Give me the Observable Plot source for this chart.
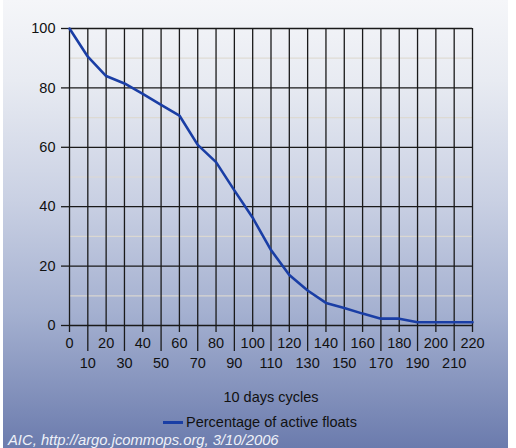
<!DOCTYPE html>
<html>
<head>
<meta charset="utf-8">
<script src="https://cdn.jsdelivr.net/npm/d3@7"></script>
<script src="https://cdn.jsdelivr.net/npm/@observablehq/plot@0.6"></script>
<style>
  html, body { margin: 0; padding: 0; background: #ffffff; }
  #wrap { position: relative; width: 516px; height: 448px; overflow: hidden; font-family: "Liberation Sans", Arial, Helvetica, sans-serif; }
  #bg { position: absolute; left: 3px; top: 0; width: 505px; height: 448px;
        background: linear-gradient(to bottom, #f5f6f9 0%, #e8ebf2 18%, #c9d0e3 45%, #a4b0d0 70%, #6b7bad 100%); }
  #chart { position: absolute; left: 0; top: 0; }
  #legend { position: absolute; left: 163px; top: 414px; display: flex; align-items: center; font-size: 14.5px; color: #111; }
  #legend .sw { width: 20px; height: 3px; background: #1a3ea5; margin-right: 3px; }
  #caption { position: absolute; left: 8px; top: 433px; font-size: 14.8px; line-height: 14px; font-style: italic; color: #eef1f8; white-space: nowrap; }
</style>
</head>
<body>
<div id="wrap">
  <div id="bg"></div>
  <div id="chart"></div>
  <div id="legend"><div class="sw"></div><span>Percentage of active floats</span></div>
  <div id="caption">AIC, http://argo.jcommops.org, 3/10/2006</div>
</div>
<script>
const cycles = [0, 10, 20, 30, 40, 50, 60, 70, 80, 90, 100, 110, 120, 130, 140, 150, 160, 170, 180, 190, 200, 210, 220];
const activePct = [100, 90.5, 84, 81.5, 78, 74.3, 70.7, 60.8, 55, 45.5, 36.3, 25.4, 17, 11.8, 7.6, 5.9, 4, 2.3, 2.3, 1.1, 1.1, 1.1, 1.1];
const evenTicks = [0, 20, 40, 60, 80, 100, 120, 140, 160, 180, 200, 220];
const oddTicks = [10, 30, 50, 70, 90, 110, 130, 150, 170, 190, 210];
const yMajor = [0, 20, 40, 60, 80, 100];
const yMinor = [10, 30, 50, 70, 90];
const xLabel = "10 days cycles";

const data = cycles.map((c, i) => ({cycle: c, pct: activePct[i]}));

const chart = Plot.plot({
  width: 516,
  height: 405,
  marginLeft: 69,
  marginRight: 44,
  marginTop: 28,
  marginBottom: 80,
  style: {background: "transparent", fontFamily: "'Liberation Sans', Arial, Helvetica, sans-serif", fontSize: "14.5px", color: "#111", overflow: "visible"},
  x: {domain: [0, 220]},
  y: {domain: [0, 100]},
  marks: [
    Plot.ruleY(yMinor, {stroke: "#ddd8cf", strokeWidth: 1.2, strokeOpacity: 0.9}),
    Plot.ruleX(cycles, {stroke: "#1a1a1a", strokeWidth: 1.3}),
    Plot.ruleY(yMajor, {stroke: "#1a1a1a", strokeWidth: 1.3}),
    Plot.axisY(yMajor, {tickSize: 8, tickPadding: 6, label: null, stroke: "#1a1a1a", strokeWidth: 1.3}),
    Plot.axisX(evenTicks, {tickSize: 7, tickPadding: 5, label: null, stroke: "#1a1a1a", strokeWidth: 1.3}),
    Plot.axisX(oddTicks, {tickSize: 26, tickPadding: 6, label: xLabel, labelAnchor: "center", labelArrow: "none", labelOffset: 76, stroke: "#1a1a1a", strokeWidth: 1.3}),
    Plot.line(data, {x: "cycle", y: "pct", stroke: "#1a3ea5", strokeWidth: 2.6, strokeLinejoin: "round"})
  ]
});
document.getElementById("chart").appendChild(chart);
</script>
</body>
</html>
